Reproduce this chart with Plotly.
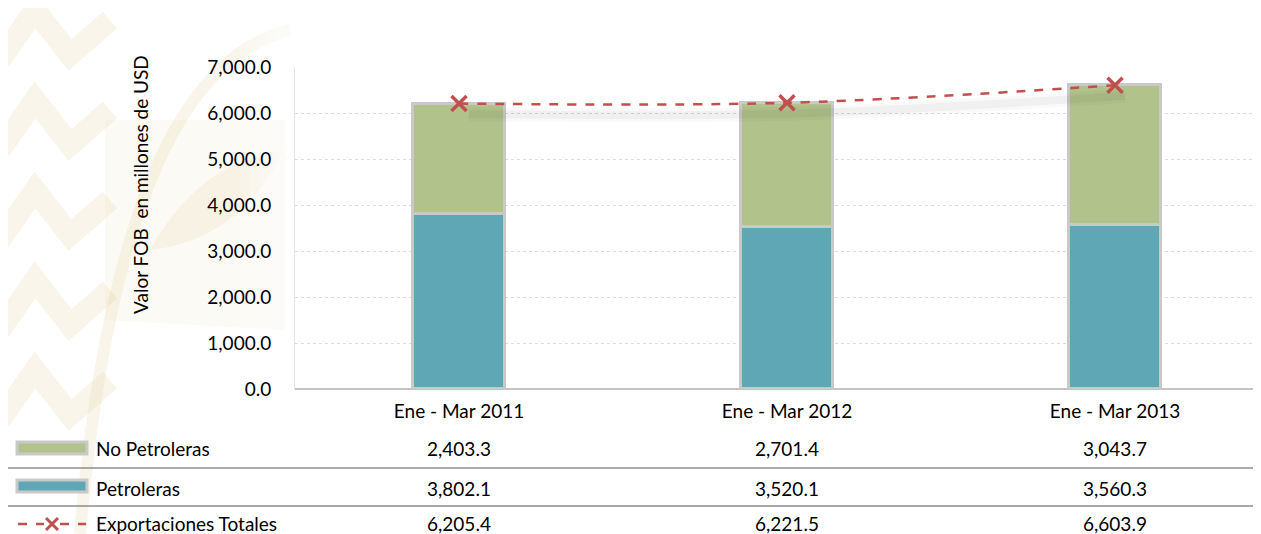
import plotly.graph_objects as go

categories = ["Ene - Mar 2011", "Ene - Mar 2012", "Ene - Mar 2013"]
no_petroleras = [2403.3, 2701.4, 3043.7]
petroleras = [3802.1, 3520.1, 3560.3]
totales = [6205.4, 6221.5, 6603.9]
y_ticks = [0, 1000, 2000, 3000, 4000, 5000, 6000, 7000]

O = 8  # page offset of the plot div
W, H = 1261 - O, 534 - O
L, T, B = 295 - O, 67 - O, 534 - 389
PW, PH = W - L, H - T - B
FONT = "Lato"
FS = 19

def px(p):
    return (p - O - L) / PW

def py(p):
    return (H - B - (p - O)) / PH

xidx = list(range(len(categories)))
fig = go.Figure()

fig.add_trace(go.Bar(x=xidx, y=petroleras, name="Petroleras", width=0.28,
                     marker=dict(color="#60a7b6", line=dict(color="#c9c9c9", width=3))))
fig.add_trace(go.Bar(x=xidx, y=no_petroleras, name="No Petroleras", width=0.28,
                     marker=dict(color="#b1c28b", line=dict(color="#c9c9c9", width=3))))
# soft shadow of the total line
shadow_offset = 230
for w, a in [(14, 0.025), (8, 0.035)]:
    fig.add_trace(go.Scatter(x=[i + 0.03 for i in xidx], y=[v - shadow_offset for v in totales],
                             mode="lines", line=dict(color="rgba(0,0,0,%s)" % a, width=w, shape="spline"),
                             hoverinfo="skip"))
fig.add_trace(go.Scatter(x=xidx, y=totales, name="Exportaciones Totales", mode="lines+markers",
                         line=dict(color="#c0504d", width=2.5, dash="dash", shape="spline"),
                         marker=dict(symbol="x-thin", size=15, line=dict(color="#c0504d", width=3.5))))

shapes = []
# watermark approximation (pale gold, faint)
gold = "rgba(225,205,150,0.2)"
for y0 in [10, 100, 190, 280, 370]:
    shapes.append(dict(type="path", xref="paper", yref="paper", layer="below",
                       path="M %f,%f L %f,%f L %f,%f L %f,%f" % (
                           px(0), py(y0 + 50), px(35), py(y0), px(70), py(y0 + 45), px(110), py(y0 + 10)),
                       line=dict(color=gold, width=22)))
shapes.append(dict(type="path", xref="paper", yref="paper", layer="below",
                   path="M %f,%f Q %f,%f %f,%f" % (px(290), py(30), px(120), py(70), px(80), py(534)),
                   line=dict(color=gold, width=12)))
shapes.append(dict(type="path", xref="paper", yref="paper", layer="below",
                   path="M %f,%f Q %f,%f %f,%f Q %f,%f %f,%f" % (
                       px(150), py(250), px(200), py(160), px(285), py(150),
                       px(240), py(240), px(150), py(250)),
                   line=dict(color=gold, width=0), fillcolor="rgba(225,205,150,0.16)"))
shapes.append(dict(type="path", xref="paper", yref="paper", layer="below",
                   path="M %f,%f L %f,%f L %f,%f L %f,%f Z" % (px(105), py(320), px(105), py(120),
                                                               px(285), py(120), px(285), py(330)),
                   line=dict(color=gold, width=0), fillcolor="rgba(225,205,150,0.1)"))
# white fade at the right side of the watermark
for k in range(6):
    shapes.append(dict(type="rect", xref="paper", yref="paper", layer="below",
                       x0=px(240 + k * 9), x1=px(295), y0=py(534), y1=py(0),
                       fillcolor="rgba(255,255,255,0.2)", line=dict(width=0)))

# table separators
for yl in [468, 506]:
    shapes.append(dict(type="line", xref="paper", yref="paper", x0=px(8), x1=1, y0=py(yl), y1=py(yl),
                       line=dict(color="#8c8c8c", width=1.5)))
# legend swatches
shapes.append(dict(type="rect", xref="paper", yref="paper", x0=px(17), x1=px(87), y0=py(454), y1=py(442),
                   fillcolor="#b1c28b", line=dict(color="#c9c9c9", width=3)))
shapes.append(dict(type="rect", xref="paper", yref="paper", x0=px(17), x1=px(87), y0=py(492), y1=py(480),
                   fillcolor="#60a7b6", line=dict(color="#c9c9c9", width=3)))
shapes.append(dict(type="line", xref="paper", yref="paper", x0=px(18), x1=px(44), y0=py(524), y1=py(524),
                   line=dict(color="#c0504d", width=2.5, dash="dash")))
shapes.append(dict(type="line", xref="paper", yref="paper", x0=px(60), x1=px(86), y0=py(524), y1=py(524),
                   line=dict(color="#c0504d", width=2.5, dash="dash")))
shapes.append(dict(type="line", xref="paper", yref="paper", x0=px(46), x1=px(58), y0=py(518), y1=py(530),
                   line=dict(color="#c0504d", width=3)))
shapes.append(dict(type="line", xref="paper", yref="paper", x0=px(46), x1=px(58), y0=py(530), y1=py(518),
                   line=dict(color="#c0504d", width=3)))

annotations = []
rows = [("No Petroleras", no_petroleras, 449), ("Petroleras", petroleras, 488),
        ("Exportaciones Totales", totales, 523)]
for label, vals, yrow in rows:
    annotations.append(dict(text=label, xref="paper", yref="paper", x=px(94), y=py(yrow),
                            xanchor="left", yanchor="middle",
                            showarrow=False, font=dict(family=FONT, size=FS, color="#000")))
    for i, v in enumerate(vals):
        annotations.append(dict(text="{:,.1f}".format(v), xref="x", yref="paper", x=i, y=py(yrow),
                                xanchor="center", yanchor="middle",
                                showarrow=False, font=dict(family=FONT, size=FS, color="#000")))
annotations.append(dict(text="Valor FOB \u00a0en millones de USD", xref="paper", yref="paper",
                        x=px(140), y=py(185), xanchor="center", yanchor="middle", textangle=-90,
                        showarrow=False, font=dict(family=FONT, size=FS, color="#000")))

fig.update_layout(
    width=W, height=H, margin=dict(l=L, r=0, t=T, b=B),
    barmode="stack", showlegend=False, bargap=0,
    paper_bgcolor="white", plot_bgcolor="rgba(0,0,0,0)",
    font=dict(family=FONT, size=FS, color="#000"),
    shapes=shapes, annotations=annotations,
    xaxis=dict(range=[-0.5, 2.445], tickvals=xidx, ticktext=categories, showgrid=False,
               zeroline=False, showline=False, ticks="", tickfont=dict(size=FS), ticklabelstandoff=9),
    yaxis=dict(range=[0, 7000], tickvals=y_ticks, tickformat=",.1f", showgrid=True,
               gridcolor="#dcdcdc", griddash="dot", gridwidth=1, zeroline=True,
               zerolinecolor="#c4c4c4", zerolinewidth=1.5, showline=True, linecolor="#e6e6e6",
               ticks="", ticklabelstandoff=19, tickfont=dict(size=FS)),
)
fig.write_html("out.html")
